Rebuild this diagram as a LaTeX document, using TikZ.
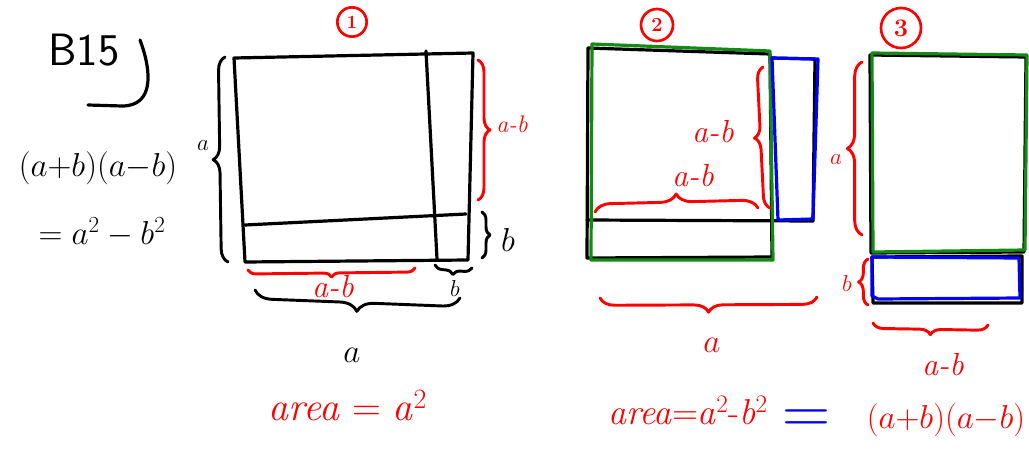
\documentclass[tikz,border=0pt]{standalone}
\usepackage{amsmath,amssymb}
\usepackage{tikz}
\usepackage{xcolor}
\usetikzlibrary{decorations.pathreplacing,calc}
\definecolor{HWRed}{HTML}{FF0000}
\definecolor{HWGreen}{HTML}{138A13}
\definecolor{HWBlue}{HTML}{0000FF}
\newcommand{\hwab}{\textit{a-b}}
\begin{document}
\begin{tikzpicture}[x=0.75pt,y=-0.75pt,line cap=round,line join=round]
\tikzset{ink/.style={line width=2.4pt},hbrace/.style={decorate,decoration={brace,amplitude=#1},line width=2.2pt},hw/.style={font=\fontsize{24}{28}\selectfont,inner sep=1pt},hwl/.style={font=\fontsize{30}{34}\selectfont,inner sep=1pt},hws/.style={font=\fontsize{18}{22}\selectfont,inner sep=1pt},hnum/.style={circle,draw=HWRed,line width=2pt,text=HWRed,font=\bfseries,inner sep=0pt,minimum size=#1}}
\useasboundingbox (0,0) rectangle (1029,457);
\node[font=\sffamily\fontsize{34}{38}\selectfont,inner sep=0pt] (title) at (84,50) {B15};
\draw[ink] (140,40) .. controls (152,72) and (154,106) .. (122,106) -- (88,105);
\node[hw] (lhs) at (98,168) {$(a{+}b)(a{-}b)$};
\node[hw] (rhs) at (102,232) {$=a^2-b^2$};
\coordinate (p1tl) at (234,58);\coordinate (p1tr) at (473,53);\coordinate (p1br) at (468,260);\coordinate (p1bl) at (245,262);
\coordinate (p1vt) at (426,51);\coordinate (p1vb) at (437,259);\coordinate (p1hl) at (245,225);\coordinate (p1hr) at (466,214);
\draw[ink] (p1tl) -- (p1tr) -- (p1br) -- (p1bl) -- cycle;
\draw[ink] (p1vt) -- (p1vb);
\draw[ink] (p1hl) -- (p1hr);
\node[hnum=22pt,font=\bfseries\fontsize{14}{16}\selectfont] (n1) at (352,22) {1};
\draw[hbrace=10pt] (228,262) -- (225,57);
\node[hws] (l1a) at (203,146) {$a$};
\draw[hbrace=9pt,HWRed] (478,60) -- (478,200);
\node[hws,text=HWRed] (l1ab) at (512,124) {\hwab};
\draw[hbrace=6pt] (482,212) -- (482,258);
\node[hw] (l1b) at (508,240) {$b$};
\draw[hbrace=6pt,HWRed] (415,268) -- (248,270);
\node[hw,text=HWRed] (l1ab2) at (333,287) {\hwab};
\draw[hbrace=6pt] (472,268) -- (435,265);
\node[hws] (l1b2) at (455,288) {$b$};
\draw[hbrace=13pt] (460,298) -- (255,290);
\node[hw] (l1a2) at (352,355) {$a$};
\node[hwl,text=HWRed] (area1) at (348,405) {\textit{area} = \textit{a}\textsuperscript{2}};
\coordinate (p2tl) at (588,48);\coordinate (p2tr) at (770,54);\coordinate (p2br) at (772,257);\coordinate (p2bl) at (587,258);
\draw[ink] (p2tl) -- (p2tr) -- (p2br) -- (p2bl) -- cycle;
\draw[ink] (587,220) -- (813,221);
\draw[ink] (771,58) -- (815,59) -- (813,221);
\draw[ink,HWGreen] (592,44) -- (770,51) -- (773,260) -- (591,260) -- cycle;
\draw[ink,HWBlue] (772,58) -- (818,59) -- (813,219) -- (778,220) -- cycle;
\node[hnum=24pt,font=\bfseries\fontsize{15}{17}\selectfont] (n2) at (657,25) {2};
\draw[hbrace=9pt,HWRed] (770,208) -- (763,67);
\node[hw,text=HWRed] (l2ab) at (713,132) {\hwab};
\draw[hbrace=12pt,HWRed] (595,212) -- (758,208);
\node[hw,text=HWRed] (l2ab2) at (693,176) {\hwab};
\draw[hbrace=11pt,HWRed] (817,297) -- (600,298);
\node[hw,text=HWRed] (l2a) at (712,345) {$a$};
\node[font=\fontsize{27}{31}\selectfont,inner sep=1pt,text=HWRed] (area2) at (688,410) {\textit{area}=\textit{a}\textsuperscript{2}-\textit{b}\textsuperscript{2}};
\node[font=\fontsize{50}{50}\selectfont,text=HWBlue,inner sep=0pt] (eq) at (806,422) {=};
\node[hw,text=HWRed] (fact) at (946,420) {$(a{+}b)(a{-}b)$};
\node[hnum=30pt,font=\bfseries\fontsize{19}{21}\selectfont] (n3) at (901,28) {3};
\draw[ink] (870,55) -- (1026,57) -- (1024,252) -- (871,253) -- cycle;
\draw[ink] (872,257) -- (1022,256) -- (1022,303) -- (873,303) -- cycle;
\draw[ink,HWGreen] (872,53) -- (1027,55) -- (1025,250) -- (873,252) -- cycle;
\draw[ink,HWBlue] (872,257) -- (1019,258) -- (1020,298) -- (878,299) -- (872,296) -- cycle;
\draw[hbrace=11pt,HWRed] (862,235) -- (862,62);
\node[hws,text=HWRed] (l3a) at (836,160) {$a$};
\draw[hbrace=7pt,HWRed] (868,305) -- (868,259);
\node[hws,text=HWRed] (l3b) at (847,283) {$b$};
\draw[hbrace=8pt,HWRed] (988,325) -- (873,323);
\node[hw,text=HWRed] (l3ab) at (943,365) {\hwab};
\end{tikzpicture}
\end{document}
